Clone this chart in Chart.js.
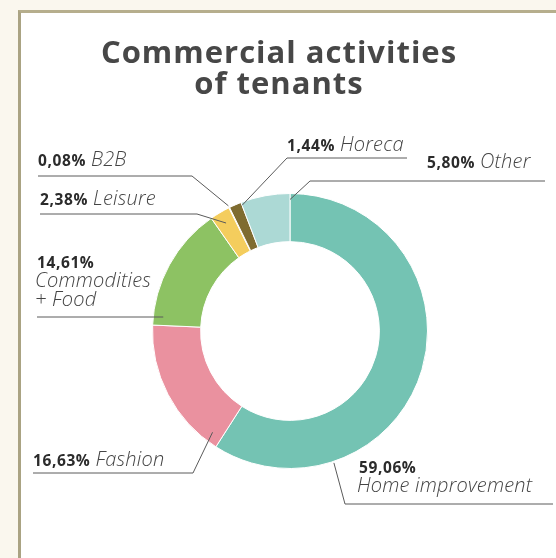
<!DOCTYPE html>
<html>
<head>
<meta charset="utf-8">
<script src="https://cdn.jsdelivr.net/npm/chart.js@4/dist/chart.umd.min.js"></script>
<style>
  html, body { margin: 0; padding: 0; background: #faf7ee; }
  body { width: 556px; height: 558px; position: relative; overflow: hidden; }
  #frame {
    position: absolute; left: 18px; top: 10px; right: 0; bottom: 0;
    background: #ffffff;
    border-left: 3px solid #aaa383;
    border-top: 3px solid #b6ae8d;
  }
  #pie { position: absolute; left: 0; top: 0; }
</style>
</head>
<body>
<div id="frame"></div>
<canvas id="pie" width="556" height="558"></canvas>
<script>
// chart data
var categories = ['Home improvement', 'Fashion', 'Commodities\n+ Food', 'Leisure', 'B2B', 'Horeca', 'Other'];
var shares = [59.06, 16.63, 14.61, 2.38, 0.08, 1.44, 5.80];
var sliceColors = ['#74c3b3', '#ea919f', '#8dc263', '#f4cd5d', '#d8c88a', '#7f6c30', '#acd9d5'];
var titleLines = ['Commercial activities', 'of tenants'];

// where each label sits and where its leader touches the ring
var labelSpots = [
    { x: 359, y: 473, nameBelow: true, lineY: 504, lineFrom: 553, lineTo: 345, frac: 0.76, dr: 1.5 },
    { x: 33, y: 466, lineY: 473, lineFrom: 33, lineTo: 193, frac: 0.08, dr: -10 },
    { x: 37, y: 268, nameBelow: true, lineY: 317, lineFrom: 37, lineTo: null, frac: 0.07, dr: -10 },
    { x: 40, y: 205, lineY: 214, lineFrom: 40, lineTo: 197, frac: 0.5, dr: -12 },
    { x: 38, y: 166, lineY: 176, lineFrom: 38, lineTo: 192, frac: 0.5, dr: 2 },
    { x: 287, y: 151, lineY: 158, lineFrom: 407, lineTo: 287, frac: 1, dr: -3 },
    { x: 427, y: 168, lineY: 181, lineFrom: 545, lineTo: 310, frac: 1, dr: -6 }
];

var pctFont = 'bold 15.5px "Open Sans"';
var nameFont = 'italic 300 20px "Open Sans"';

var labelPlugin = {
    id: 'tenantLabels',
    afterDraw: function(chart) {
        var ctx = chart.ctx;
        var meta = chart.getDatasetMeta(0);
        ctx.save();

        // title
        ctx.fillStyle = '#474747';
        ctx.font = 'bold 31px "Open Sans"';
        ctx.letterSpacing = '1px';
        ctx.textAlign = 'center';
        ctx.textBaseline = 'alphabetic';
        ctx.fillText(titleLines[0], 279, 63);
        ctx.fillText(titleLines[1], 279, 94);
        ctx.letterSpacing = '0px';

        ctx.textAlign = 'left';
        $each(categories, function(name, i) {
            var spot = labelSpots[i];
            var arc = meta.data[i];
            var pct = shares[i].toFixed(2).replace('.', ',') + '%';

            ctx.fillStyle = '#2b2b2b';
            ctx.font = pctFont;
            ctx.letterSpacing = '0.6px';
            ctx.fillText(pct, spot.x, spot.y);
            var w = ctx.measureText(pct).width;

            ctx.fillStyle = '#444444';
            ctx.font = nameFont;
            ctx.letterSpacing = '0.2px';
            var lines = name.split('\n');
            if (spot.nameBelow) {
                $each(lines, function(ln, k) {
                    ctx.fillText(ln, spot.x - 2, spot.y + 19 + k * 19);
                });
            } else {
                ctx.fillText(lines[0], spot.x + w + 5, spot.y);
            }
            ctx.letterSpacing = '0px';

            // leader line
            var a = arc.startAngle + spot.frac * (arc.endAngle - arc.startAngle);
            var r = arc.outerRadius + spot.dr;
            var px = arc.x + r * Math.cos(a);
            var py = arc.y + r * Math.sin(a);
            ctx.strokeStyle = '#5a5a5a';
            ctx.lineWidth = 1;
            ctx.beginPath();
            ctx.moveTo(spot.lineFrom, spot.lineY);
            if (spot.lineTo !== null) {
                ctx.lineTo(spot.lineTo, spot.lineY);
                ctx.lineTo(px, py);
            } else {
                ctx.lineTo(px, spot.lineY);
            }
            ctx.stroke();
        });
        ctx.restore();
    }
};

function $each(list, fn) {
    for (var i = 0; i < list.length; i++) fn(list[i], i);
}

var ctx = document.getElementById('pie').getContext('2d');
var data = {
    labels: categories,
    datasets: [{
        data: shares,
        backgroundColor: sliceColors,
        borderColor: '#ffffff',
        borderWidth: 1
    }]
};

var myPieChart = new Chart(ctx, {
    type: 'doughnut',
    data: data,
    options: {
        responsive: false,
        animation: false,
        cutout: '65%',
        layout: { padding: { left: 152, right: 128, top: 193, bottom: 89 } },
        plugins: {
            legend: { display: false },
            tooltip: { enabled: false }
        }
    },
    plugins: [labelPlugin]
});
</script>
</body>
</html>
